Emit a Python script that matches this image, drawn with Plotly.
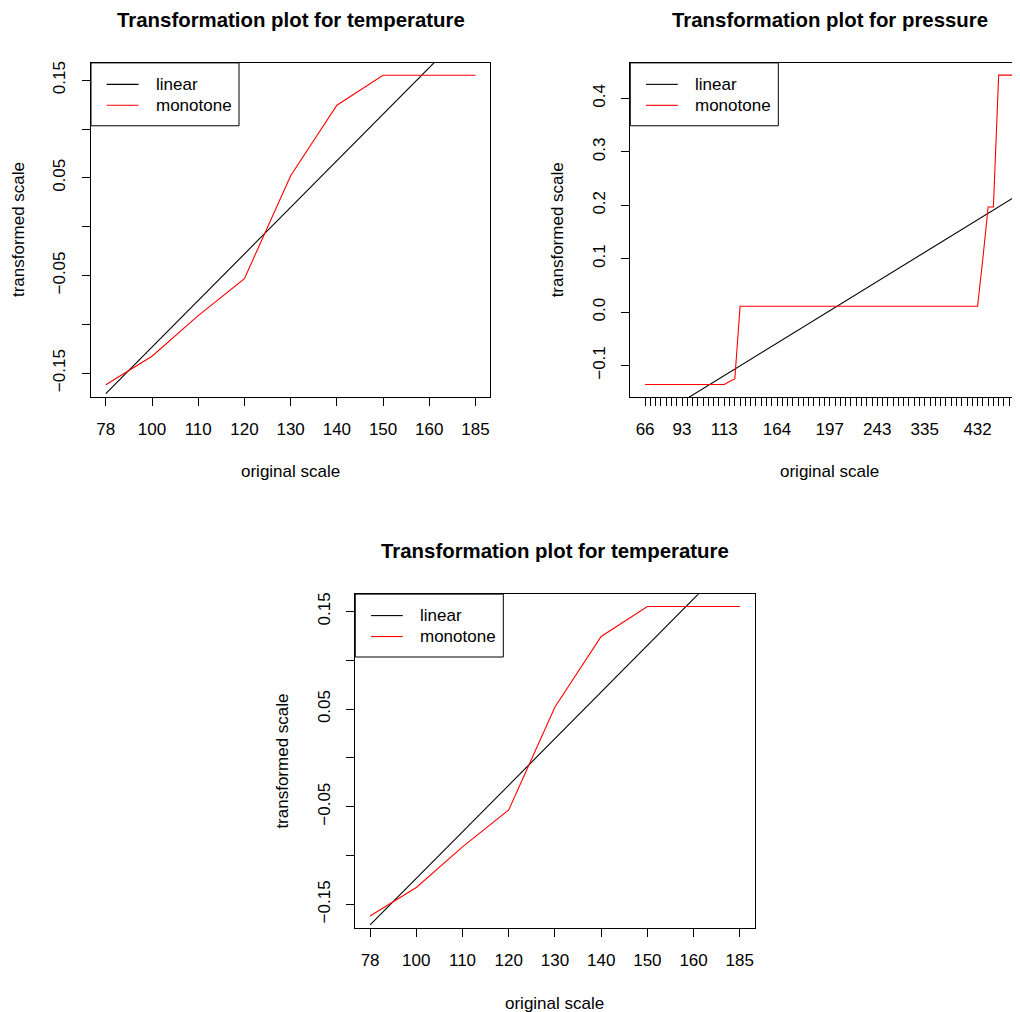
import plotly.graph_objects as go

# ---------------- data ----------------
temp_labels = ["78", "100", "110", "120", "130", "140", "150", "160", "185"]
temp_index = [1, 2, 3, 4, 5, 6, 7, 8, 9]
temp_linear = [-0.171, -0.1233, -0.0756, -0.0279, 0.0198, 0.0675, 0.1152, 0.1629, 0.2106]
temp_monotone = [-0.1619, -0.1326, -0.091, -0.0532, 0.0521, 0.1244, 0.155, 0.155, 0.155]
temp_yticks = [-0.15, -0.10, -0.05, 0.00, 0.05, 0.10, 0.15]
temp_yticklabels = ["\u22120.15", "", "\u22120.05", "", "0.05", "", "0.15"]

pres_n = 71
pres_label_index = [1, 8, 16, 26, 36, 45, 54, 64]
pres_labels = ["66", "93", "113", "164", "197", "243", "335", "432"]
pres_linear_index = [1, 71]
pres_linear = [-0.2099, 0.2155]
pres_mono_index = [1, 16, 17, 18, 19, 64, 65, 66, 67, 68, 71]
pres_monotone = [-0.1355, -0.1355, -0.130, -0.125, 0.011, 0.011, 0.10, 0.197, 0.197, 0.4437, 0.4437]
pres_yticks = [-0.1, 0.0, 0.1, 0.2, 0.3, 0.4]
pres_yticklabels = ["\u22120.1", "0.0", "0.1", "0.2", "0.3", "0.4"]

legend_names = ["linear", "monotone"]
legend_colors = ["black", "red"]

# ---------------- layout helpers ----------------
OFF = 8  # page body margin
W, H = 1020 - OFF, 1012 - OFF
FONT = "Liberation Sans, Arial, Helvetica, sans-serif"


def px(x):
    return (x - OFF) / W


def py(y):
    return 1 - (y - OFF) / H


PW, PH = 399.3, 335.0
panels = {
    "A": dict(left=91.0, top=61.0),
    "B": dict(left=630.3, top=61.0),
    "C": dict(left=355.3, top=593.3),
}

fig = go.Figure()

# panel A and C: temperature
for ax in ["", "3"]:
    fig.add_trace(go.Scatter(x=temp_index, y=temp_linear, mode="lines",
                             line=dict(color="black", width=1.1), showlegend=False,
                             xaxis="x" + ax, yaxis="y" + ax, hoverinfo="skip"))
    fig.add_trace(go.Scatter(x=temp_index, y=temp_monotone, mode="lines",
                             line=dict(color="red", width=1.1), showlegend=False,
                             xaxis="x" + ax, yaxis="y" + ax, hoverinfo="skip"))

# panel B: pressure
fig.add_trace(go.Scatter(x=pres_linear_index, y=pres_linear, mode="lines",
                         line=dict(color="black", width=1.1), showlegend=False,
                         xaxis="x2", yaxis="y2", hoverinfo="skip"))
fig.add_trace(go.Scatter(x=pres_mono_index, y=pres_monotone, mode="lines",
                         line=dict(color="red", width=1.1), showlegend=False,
                         xaxis="x2", yaxis="y2", hoverinfo="skip"))

common = dict(showline=True, linecolor="black", linewidth=1, ticks="outside",
              ticklen=8, tickwidth=1, tickcolor="black", showgrid=False,
              zeroline=False, fixedrange=True,
              tickfont=dict(family=FONT, size=17, color="black"))

pres_tickvals = list(range(1, pres_n + 1))
pres_ticktext = [""] * pres_n
for i, lab in zip(pres_label_index, pres_labels):
    pres_ticktext[i - 1] = lab

A, B, C = panels["A"], panels["B"], panels["C"]

fig.update_layout(
    width=W, height=H, margin=dict(l=0, r=0, t=0, b=0),
    paper_bgcolor="white", plot_bgcolor="white", showlegend=False,
    xaxis=dict(domain=[px(A["left"]), px(A["left"] + PW)], range=[0.68, 9.32],
               tickmode="array", tickvals=temp_index, ticktext=temp_labels,
               anchor="y", mirror=True, ticklabelstandoff=8, **common),
    yaxis=dict(domain=[py(A["top"] + PH), py(A["top"])], range=[-0.1746, 0.1677],
               tickmode="array", tickvals=temp_yticks, ticktext=temp_yticklabels,
               tickangle=-90, anchor="x", mirror=True, ticklabelstandoff=10, **common),
    xaxis2=dict(domain=[px(B["left"]), 1.0], range=[-1.805, 72.04],
                tickmode="array", tickvals=pres_tickvals, ticktext=pres_ticktext,
                anchor="y2", mirror=True, ticklabelstandoff=8, **common),
    yaxis2=dict(domain=[py(B["top"] + PH), py(B["top"])], range=[-0.1593, 0.4667],
                tickmode="array", tickvals=pres_yticks, ticktext=pres_yticklabels,
                tickangle=-90, anchor="x2", mirror=False, ticklabelstandoff=10, **common),
    xaxis3=dict(domain=[px(C["left"]), px(C["left"] + PW)], range=[0.68, 9.32],
                tickmode="array", tickvals=temp_index, ticktext=temp_labels,
                anchor="y3", mirror=True, ticklabelstandoff=8, **common),
    yaxis3=dict(domain=[py(C["top"] + PH), py(C["top"])], range=[-0.1746, 0.1677],
                tickmode="array", tickvals=temp_yticks, ticktext=temp_yticklabels,
                tickangle=-90, anchor="x3", mirror=True, ticklabelstandoff=10, **common),
)

titles = {
    "A": "Transformation plot for temperature",
    "B": "Transformation plot for pressure",
    "C": "Transformation plot for temperature",
}

shapes = []
annotations = []
for key, p in panels.items():
    L, T = p["left"], p["top"]
    cx = L + PW / 2
    cy = T + PH / 2
    annotations.append(dict(text="<b>%s</b>" % titles[key], x=px(cx), y=py(T - 43),
                            xref="paper", yref="paper", showarrow=False,
                            xanchor="center", yanchor="middle",
                            font=dict(family=FONT, size=20.4, color="black")))
    annotations.append(dict(text="original scale", x=px(cx), y=py(T + 409.7),
                            xref="paper", yref="paper", showarrow=False,
                            xanchor="center", yanchor="middle",
                            font=dict(family=FONT, size=17, color="black")))
    annotations.append(dict(text="transformed scale", x=px(L - 73), y=py(cy),
                            xref="paper", yref="paper", showarrow=False, textangle=-90,
                            xanchor="center", yanchor="middle",
                            font=dict(family=FONT, size=17, color="black")))
    # legend box
    shapes.append(dict(type="rect", xref="paper", yref="paper",
                       x0=px(L), x1=px(L + 148), y0=py(T), y1=py(T + 63),
                       line=dict(color="black", width=1), fillcolor="white", layer="above"))
    for k, (name, col) in enumerate(zip(legend_names, legend_colors)):
        yy = T + 21.5 + 21 * k
        shapes.append(dict(type="line", xref="paper", yref="paper",
                           x0=px(L + 15.7), x1=px(L + 47.5), y0=py(yy), y1=py(yy),
                           line=dict(color=col, width=1.1), layer="above"))
        annotations.append(dict(text=name, x=px(L + 62.5), y=py(yy),
                                xref="paper", yref="paper", showarrow=False,
                                xanchor="left", yanchor="middle",
                                font=dict(family=FONT, size=17, color="black")))

fig.update_layout(shapes=shapes, annotations=annotations)

fig.write_html("out.html")
